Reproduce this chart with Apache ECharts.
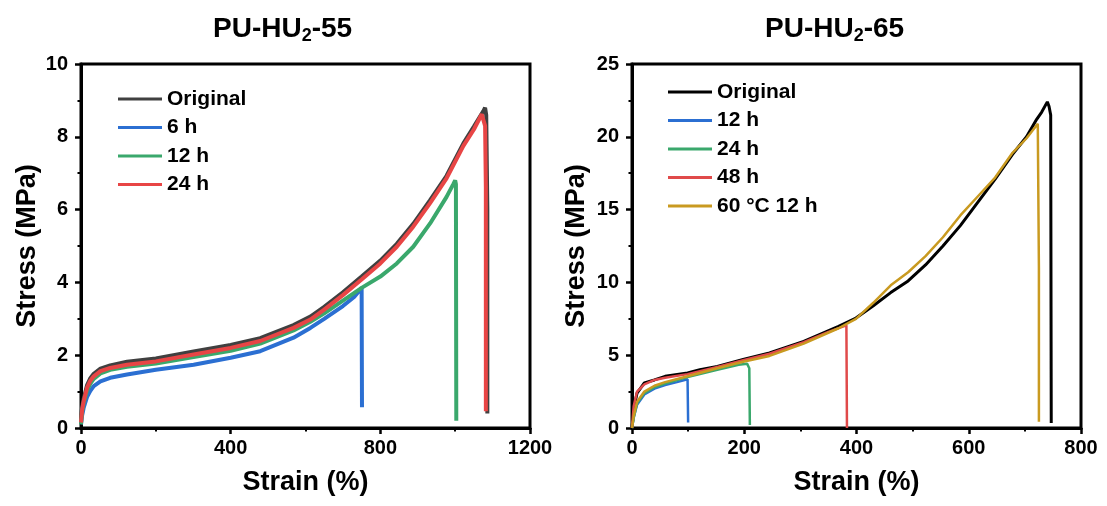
<!DOCTYPE html>
<html>
<head>
<meta charset="utf-8">
<script src="https://cdn.jsdelivr.net/npm/echarts@6/dist/echarts.min.js"></script>
<style>
  html, body { margin: 0; padding: 0; background: #fff; }
  #c1 { position: absolute; left: 0; top: 0; width: 560px; height: 506px; }
  #c2 { position: absolute; left: 555px; top: 0; width: 552px; height: 506px; }
</style>
</head>
<body>
<div id="c1"></div>
<div id="c2"></div>
<script>
// ---------- Left panel: PU-HU2-55 ----------
const leftNames = ['Original', '6 h', '12 h', '24 h'];
const leftXTicks = [0, 400, 800, 1200];
const leftYTicks = [0, 2, 4, 6, 8, 10];

const L_original_strain = [0, 3, 7, 16, 25, 34, 52, 78, 123, 200, 301, 400, 479, 568, 613, 650, 700, 750, 800, 844, 888, 933, 977, 1022, 1050, 1075, 1080, 1083, 1086, 1086];
const L_original_stress = [0.25, 0.57, 0.8, 1.17, 1.37, 1.49, 1.63, 1.72, 1.82, 1.91, 2.1, 2.28, 2.47, 2.83, 3.06, 3.33, 3.73, 4.16, 4.6, 5.06, 5.61, 6.26, 6.93, 7.82, 8.28, 8.7, 8.8, 8.6, 6.0, 0.4];

const L_6h_strain = [0, 3, 7, 16, 25, 34, 52, 78, 123, 200, 301, 400, 479, 568, 613, 650, 700, 730, 750, 751, 751];
const L_6h_stress = [0.1, 0.35, 0.55, 0.85, 1.02, 1.15, 1.28, 1.38, 1.47, 1.6, 1.74, 1.93, 2.11, 2.48, 2.75, 3.0, 3.35, 3.6, 3.85, 3.8, 0.57];

const L_12h_strain = [0, 3, 7, 16, 25, 34, 52, 78, 123, 200, 301, 400, 479, 568, 613, 650, 700, 750, 800, 844, 888, 933, 977, 995, 1000, 1002, 1003];
const L_12h_stress = [0.1, 0.45, 0.68, 1.02, 1.22, 1.35, 1.5, 1.6, 1.68, 1.77, 1.95, 2.12, 2.32, 2.68, 2.92, 3.15, 3.5, 3.85, 4.16, 4.52, 4.98, 5.62, 6.35, 6.7, 6.8, 6.7, 0.2];

const L_24h_strain = [0, 3, 7, 16, 25, 34, 52, 78, 123, 200, 301, 400, 479, 568, 613, 650, 700, 750, 800, 844, 888, 933, 977, 1022, 1050, 1071, 1080, 1082, 1082];
const L_24h_stress = [0.15, 0.5, 0.73, 1.1, 1.3, 1.42, 1.56, 1.65, 1.74, 1.83, 2.02, 2.2, 2.39, 2.75, 2.98, 3.25, 3.65, 4.08, 4.52, 4.98, 5.53, 6.18, 6.86, 7.75, 8.2, 8.62, 8.3, 6.6, 0.46];

const leftColors = ['#404040', '#2b6fd2', '#3aa86c', '#e84545'];

// ---------- Right panel: PU-HU2-65 ----------
const rightNames = ['Original', '12 h', '24 h', '48 h', '60 °C 12 h'];
const rightXTicks = [0, 200, 400, 600, 800];
const rightYTicks = [0, 5, 10, 15, 20, 25];

const R_original_strain = [0, 3, 9, 22, 40, 59, 99, 121, 152, 198, 245, 306, 368, 399, 430, 461, 492, 523, 554, 585, 616, 647, 678, 703, 721, 730, 740, 743, 746, 747];
const R_original_stress = [0, 1.3, 2.4, 3.1, 3.3, 3.55, 3.78, 4.0, 4.23, 4.7, 5.15, 5.95, 6.98, 7.55, 8.4, 9.3, 10.1, 11.2, 12.5, 13.9, 15.5, 17.1, 18.8, 20.0, 21.2, 21.7, 22.4, 22.1, 21.5, 0.34];

const R_12h_strain = [0, 3, 9, 22, 40, 59, 80, 99, 100];
const R_12h_stress = [0, 0.7, 1.6, 2.3, 2.7, 2.95, 3.15, 3.35, 0.38];

const R_24h_strain = [0, 3, 9, 22, 40, 59, 99, 152, 190, 205, 209, 210];
const R_24h_stress = [0, 0.7, 1.7, 2.4, 2.8, 3.05, 3.5, 4.0, 4.35, 4.42, 4.1, 0.2];

const R_48h_strain = [0, 3, 9, 22, 40, 59, 99, 152, 198, 245, 306, 350, 382, 383];
const R_48h_stress = [0, 1.5, 2.5, 3.0, 3.3, 3.45, 3.7, 4.2, 4.65, 5.1, 5.9, 6.6, 7.05, 0];

const R_60C_strain = [0, 3, 9, 22, 40, 59, 99, 152, 198, 245, 306, 368, 399, 430, 461, 492, 523, 554, 585, 616, 647, 678, 703, 723, 725, 725];
const R_60C_stress = [0, 0.8, 1.8, 2.5, 2.9, 3.15, 3.55, 4.1, 4.55, 4.95, 5.8, 6.85, 7.5, 8.6, 9.8, 10.7, 11.8, 13.1, 14.6, 15.9, 17.2, 18.9, 19.9, 20.9, 11.0, 0.43];

const rightColors = ['#000000', '#2b6fd2', '#3aa86c', '#e04a4a', '#c99a20'];

// ---------- helpers ----------
const FONT = '"Liberation Sans", Arial, sans-serif';
function pairs(xs, ys) { return xs.map((x, i) => [x, ys[i]]); }

function axis(min, max, interval, name, nameGap, isY) {
  const a = {
    type: 'value', min: min, max: max, interval: interval,
    name: name, nameLocation: 'middle', nameGap: nameGap,
    nameRotate: isY ? 90 : 0,
    nameTextStyle: { fontSize: 27, fontWeight: 'bold', fontFamily: FONT, color: '#000' },
    axisLine: { show: true, onZero: false, lineStyle: { color: '#000', width: 3 } },
    axisTick: { show: true, inside: false, length: 6, lineStyle: { color: '#000', width: 2.5 } },
    minorTick: { show: true, splitNumber: 2, length: 3.5, lineStyle: { color: '#000', width: 2 } },
    splitLine: { show: false },
    axisLabel: {
      fontSize: 20, fontWeight: 'bold', fontFamily: FONT, color: '#000', margin: isY ? 13 : 10,
      formatter: function (v) { return String(v); }
    }
  };
  if (isY) a.nameMoveOverlap = false;
  return a;
}

function titleOpt(base, suffix, left) {
  return {
    text: '{a|' + base + '}{b|2}{a|' + suffix + '}',
    left: left, top: 10,
    textStyle: {
      fontSize: 28, fontWeight: 'bold', fontFamily: FONT, color: '#000',
      rich: {
        a: { fontSize: 28, fontWeight: 'bold', fontFamily: FONT, color: '#000', lineHeight: 30, verticalAlign: 'top' },
        b: { fontSize: 18, fontWeight: 'bold', fontFamily: FONT, color: '#000', lineHeight: 18, verticalAlign: 'bottom', padding: [14, 0, 0, 0] }
      }
    }
  };
}

function legendOpt(names, left, top) {
  return {
    orient: 'vertical', left: left, top: top, icon: 'rect',
    itemWidth: 44, itemHeight: 3, itemGap: 6.5,
    textStyle: { fontSize: 21, fontWeight: 'bold', fontFamily: FONT, color: '#000', lineHeight: 22 },
    data: names
  };
}

function lineSeries(name, data, color, width) {
  return {
    name: name, type: 'line', data: data, showSymbol: false, symbol: 'none',
    lineStyle: { color: color, width: width }, itemStyle: { color: color },
    emphasis: { disabled: true }
  };
}

// ---------- left chart ----------
const c1 = echarts.init(document.getElementById('c1'), null, { renderer: 'canvas' });
c1.setOption({
  animation: false,
  color: leftColors,
  title: titleOpt('PU-HU', '-55', 208),
  grid: { left: 81, right: 30, top: 64, bottom: 78, show: true, borderColor: '#000', borderWidth: 3 },
  legend: legendOpt(leftNames, 113, 83),
  xAxis: axis(leftXTicks[0], leftXTicks[leftXTicks.length - 1], leftXTicks[1] - leftXTicks[0], 'Strain (%)', 41, false),
  yAxis: axis(leftYTicks[0], leftYTicks[leftYTicks.length - 1], leftYTicks[1] - leftYTicks[0], 'Stress (MPa)', 40, true),
  series: [
    lineSeries(leftNames[0], pairs(L_original_strain, L_original_stress), leftColors[0], 4),
    lineSeries(leftNames[1], pairs(L_6h_strain, L_6h_stress), leftColors[1], 4),
    lineSeries(leftNames[2], pairs(L_12h_strain, L_12h_stress), leftColors[2], 4),
    lineSeries(leftNames[3], pairs(L_24h_strain, L_24h_stress), leftColors[3], 4)
  ]
});

// ---------- right chart ----------
const c2 = echarts.init(document.getElementById('c2'), null, { renderer: 'canvas' });
c2.setOption({
  animation: false,
  color: rightColors,
  title: titleOpt('PU-HU', '-65', 205),
  grid: { left: 76, right: 26, top: 64, bottom: 78, show: true, borderColor: '#000', borderWidth: 3 },
  legend: legendOpt(rightNames, 108, 76),
  xAxis: axis(rightXTicks[0], rightXTicks[rightXTicks.length - 1], rightXTicks[1] - rightXTicks[0], 'Strain (%)', 41, false),
  yAxis: axis(rightYTicks[0], rightYTicks[rightYTicks.length - 1], rightYTicks[1] - rightYTicks[0], 'Stress (MPa)', 42, true),
  series: [
    lineSeries(rightNames[0], pairs(R_original_strain, R_original_stress), rightColors[0], 3),
    lineSeries(rightNames[1], pairs(R_12h_strain, R_12h_stress), rightColors[1], 2.5),
    lineSeries(rightNames[2], pairs(R_24h_strain, R_24h_stress), rightColors[2], 2.5),
    lineSeries(rightNames[3], pairs(R_48h_strain, R_48h_stress), rightColors[3], 2.5),
    lineSeries(rightNames[4], pairs(R_60C_strain, R_60C_stress), rightColors[4], 2.5)
  ]
});
</script>
</body>
</html>
